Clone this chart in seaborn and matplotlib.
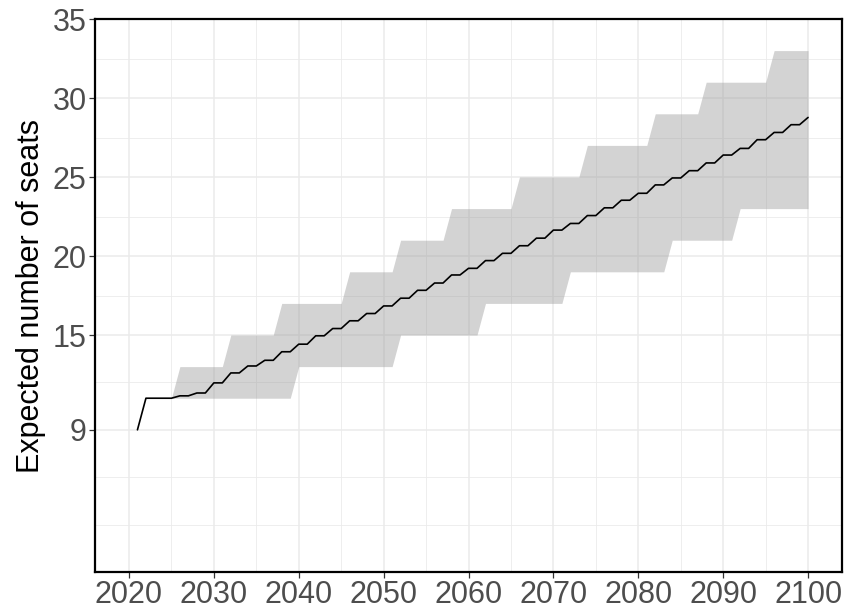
import numpy as np
import pandas as pd
import matplotlib
matplotlib.use("Agg")
import matplotlib.pyplot as plt
from matplotlib.ticker import FixedLocator
import seaborn as sns

# Expected seats per year (line)
years = list(range(2021, 2101))
seats = [9, 11, 11, 11, 11,
         11.15, 11.15, 11.33, 11.33, 11.97, 11.97, 12.6, 12.6, 13.04, 13.04,
         13.4, 13.4, 13.94, 13.94, 14.42, 14.42, 14.95, 14.95, 15.41, 15.41,
         15.9, 15.9, 16.36, 16.36, 16.84, 16.84, 17.33, 17.33, 17.83, 17.83,
         18.29, 18.29, 18.8, 18.8, 19.22, 19.22, 19.71, 19.71, 20.17, 20.17,
         20.65, 20.65, 21.13, 21.13, 21.64, 21.64, 22.06, 22.06, 22.56, 22.56,
         23.05, 23.05, 23.53, 23.53, 23.97, 23.97, 24.5, 24.5, 24.94, 24.94,
         25.4, 25.4, 25.89, 25.89, 26.39, 26.39, 26.81, 26.81, 27.36, 27.36,
         27.82, 27.82, 28.31, 28.31, 28.77]

# Interval (ribbon), yearly from 2025
band_years = list(range(2025, 2101))
lower = [11, 11, 11, 11, 11, 11, 11, 11, 11, 11, 11, 11, 11, 11, 11,
         13, 13, 13, 13, 13, 13, 13, 13, 13, 13, 13, 13,
         15, 15, 15, 15, 15, 15, 15, 15, 15, 15,
         17, 17, 17, 17, 17, 17, 17, 17, 17, 17,
         19, 19, 19, 19, 19, 19, 19, 19, 19, 19, 19, 19,
         21, 21, 21, 21, 21, 21, 21, 21,
         23, 23, 23, 23, 23, 23, 23, 23, 23]
upper = [11,
         13, 13, 13, 13, 13, 13,
         15, 15, 15, 15, 15, 15,
         17, 17, 17, 17, 17, 17, 17, 17,
         19, 19, 19, 19, 19, 19,
         21, 21, 21, 21, 21, 21,
         23, 23, 23, 23, 23, 23, 23, 23,
         25, 25, 25, 25, 25, 25, 25, 25,
         27, 27, 27, 27, 27, 27, 27, 27,
         29, 29, 29, 29, 29, 29,
         31, 31, 31, 31, 31, 31, 31, 31,
         33, 33, 33, 33, 33]

x_ticks = [2020, 2030, 2040, 2050, 2060, 2070, 2080, 2090, 2100]
y_ticks = [9, 15, 20, 25, 30, 35]
x_minor = [2025, 2035, 2045, 2055, 2065, 2075, 2085, 2095]
y_minor = [3, 6, 12, 17.5, 22.5, 27.5, 32.5]

line_df = pd.DataFrame({"year": years, "seats": seats})
band_df = pd.DataFrame({"year": band_years, "lower": lower, "upper": upper})

sns.set_style("white")
plt.rcParams['font.family'] = ['Liberation Sans', 'DejaVu Sans']

fig, ax = plt.subplots(figsize=(8.46, 6.11), dpi=100)
fig.subplots_adjust(left=0.1123, right=0.9953, top=0.9689, bottom=0.0638)

ax.fill_between(band_df["year"], band_df["lower"], band_df["upper"],
                color="#9E9E9E", alpha=0.45, linewidth=0, zorder=2)
sns.lineplot(ax=ax, data=line_df, x="year", y="seats", color="black",
             linewidth=1.2, zorder=3)

ax.set_xlim(2016, 2104)
ax.set_ylim(0, 35)
ax.set_xticks(x_ticks)
ax.set_yticks(y_ticks)
ax.xaxis.set_minor_locator(FixedLocator(x_minor))
ax.yaxis.set_minor_locator(FixedLocator(y_minor))

ax.grid(True, which="major", color="#EBEBEB", linewidth=1.1, zorder=0)
ax.grid(True, which="minor", color="#EBEBEB", linewidth=0.6, zorder=0)
ax.set_axisbelow(True)

for s in ax.spines.values():
    s.set_color("black")
    s.set_linewidth(1.6)

ax.tick_params(axis="both", which="major", labelsize=22, labelcolor="#4D4D4D",
               color="#333333", length=4, width=0.9, pad=2, bottom=True, left=True)
ax.tick_params(axis="both", which="minor", length=0)

ax.set_xlabel("")
ax.set_ylabel("Expected number of seats", fontsize=22, color="black", labelpad=5)

fig.savefig("out.png", dpi=100)
